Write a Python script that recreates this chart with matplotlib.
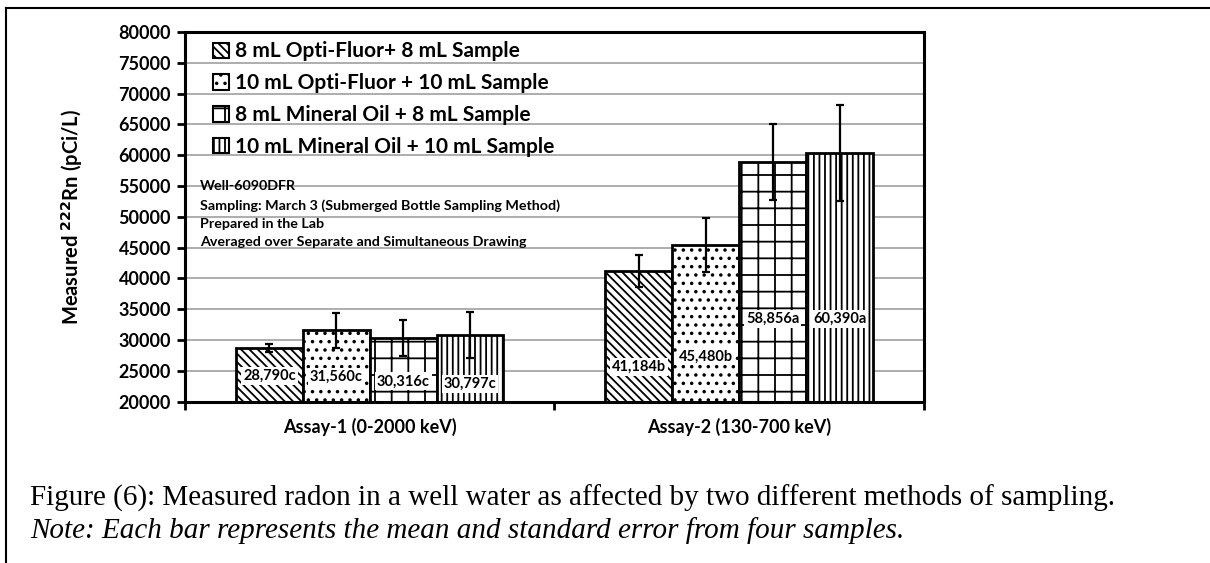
import numpy as np
import matplotlib.pyplot as plt
from matplotlib.patches import Patch

plt.rcParams['font.family'] = ['Lato', 'DejaVu Sans']
plt.rcParams['font.weight'] = 'bold'
plt.rcParams['hatch.linewidth'] = 1.3

assays = ['Assay-1 (0-2000 keV)', 'Assay-2 (130-700 keV)']
series = ['8 mL Opti-Fluor+ 8 mL Sample',
          '10 mL Opti-Fluor + 10 mL Sample',
          '8 mL Mineral Oil + 8 mL Sample',
          '10 mL Mineral Oil + 10 mL Sample']
means = [[28790, 41184], [31560, 45480], [30316, 58856], [30797, 60390]]
errors = [[650, 2570], [2800, 4400], [2900, 6160], [3780, 7800]]
letters = [['c', 'b'], ['c', 'b'], ['c', 'a'], ['c', 'a']]
label_y = [[24200, 25700], [24050, 27350], [23300, 33450], [22900, 33450]]
hatches = ['\\\\\\\\', '..', '+', '|||']

fig = plt.figure(figsize=(12.1, 5.63), dpi=100)
ax = fig.add_axes([0.1529, 0.2865, 0.6107, 0.6567])

x = np.arange(len(assays))
w = 0.181
for i in range(len(series)):
    pos = x + (i - 1.5) * w
    ax.bar(pos, np.array(means[i]) - 20000, w, bottom=20000, color='white',
           edgecolor='black', linewidth=2, hatch=hatches[i], zorder=2)
    ax.errorbar(pos, means[i], yerr=errors[i], fmt='none', ecolor='black',
                elinewidth=1.6, capsize=3, capthick=1.6, zorder=3)
    for j in range(len(assays)):
        txt = '{:,}{}'.format(means[i][j], letters[i][j])
        ax.text(pos[j], label_y[i][j], txt, ha='center', va='center', fontsize=10.5,
                fontweight='bold', zorder=4,
                bbox=dict(facecolor='white', edgecolor='none', pad=1.5))

ax.set_xlim(-0.5, 1.5)
ax.set_ylim(20000, 80000)
ax.set_yticks(np.arange(20000, 80001, 5000))
ax.set_yticklabels([str(v) for v in range(20000, 80001, 5000)], fontsize=13, fontweight='bold')
ax.set_xticks([-0.5, 0.5, 1.5], minor=False)
ax.set_xticklabels([])
ax.set_xticks(x, minor=True)
ax.set_xticklabels(assays, minor=True, fontsize=13, fontweight='bold')
ax.tick_params(axis='x', which='minor', length=0, pad=12)
ax.tick_params(axis='x', which='major', length=6, width=2, direction='out')
ax.tick_params(axis='y', length=6, width=2, direction='out', pad=4)
ax.yaxis.grid(True, color='#a0a0a0', linewidth=1.2, zorder=0)
ax.set_axisbelow(True)
for s in ax.spines.values():
    s.set_linewidth(2.2)

ax.set_ylabel('Measured $^{\\mathbf{222}}$Rn (pCi/L)', fontsize=14.5, fontweight='bold', labelpad=24)

handles = [Patch(facecolor='white', edgecolor='black', hatch=h, linewidth=1.5) for h in hatches]
leg = ax.legend(handles, series, loc='upper left', bbox_to_anchor=(0.013, 1.025), frameon=False,
                prop={'size': 15, 'weight': 'bold'}, handlelength=0.75, handleheight=0.75,
                handletextpad=0.3, labelspacing=0.57)

notes = ['Well-6090DFR',
         'Sampling: March 3 (Submerged Bottle Sampling Method)',
         'Prepared in the Lab',
         'Averaged over Separate and Simultaneous Drawing']
ax.text(0.02, 0.599, '\n'.join(notes), transform=ax.transAxes, ha='left', va='top',
        fontsize=10.3, fontweight='bold', linespacing=1.63)

fig.text(0.025, 0.1012, 'Figure (6): Measured radon in a well water as affected by two different methods of sampling.',
         family='Liberation Serif', fontweight='normal', fontsize=21, va='baseline')
fig.text(0.025, 0.0444, 'Note: Each bar represents the mean and standard error from four samples.',
         family='Liberation Serif', fontweight='normal', style='italic', fontsize=21, va='baseline')

fig.add_artist(plt.Line2D([0.005, 0.005], [0, 0.986], color='black', linewidth=1.5, transform=fig.transFigure))
fig.add_artist(plt.Line2D([0.005, 1], [0.986, 0.986], color='black', linewidth=1.5, transform=fig.transFigure))

fig.savefig('out.png', dpi=100)
